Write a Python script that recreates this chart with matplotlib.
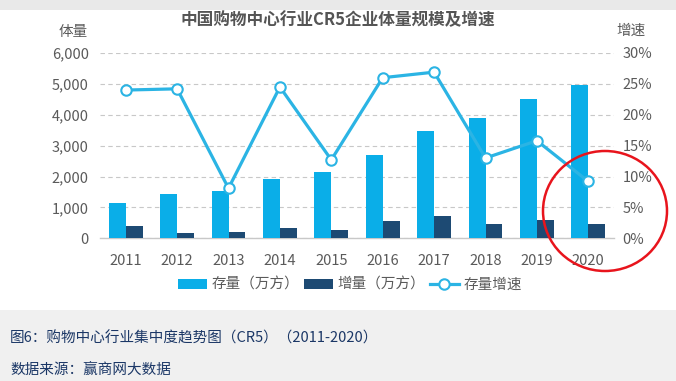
import numpy as np
import matplotlib
matplotlib.use("Agg")
import matplotlib.pyplot as plt
from matplotlib.patches import Ellipse, Rectangle, Patch
from matplotlib.lines import Line2D
from matplotlib.ticker import FuncFormatter

plt.rcParams['font.family'] = ['Noto Sans CJK SC', 'DejaVu Sans']

years = ['2011', '2012', '2013', '2014', '2015', '2016', '2017', '2018', '2019', '2020']
stock = [1150, 1430, 1540, 1920, 2160, 2710, 3480, 3900, 4510, 4950]
added = [390, 170, 195, 335, 260, 550, 715, 465, 605, 465]
growth = [24.0, 24.2, 8.1, 24.5, 12.7, 26.0, 26.9, 13.0, 15.8, 9.2]

c_stock = '#0aaee8'
c_added = '#1d4a73'
c_line = '#2bb4e4'
c_text = '#5a5a5a'

W, H = 676, 381
fig = plt.figure(figsize=(W / 100, H / 100), dpi=100)
fig.patch.set_facecolor('white')

# background strips
fig.patches.append(Rectangle((0, 1 - 10 / H), 1, 10 / H, transform=fig.transFigure,
                             facecolor='#e9e9e9', edgecolor='none', zorder=0))
fig.patches.append(Rectangle((0, 0), 1, (H - 310) / H, transform=fig.transFigure,
                             facecolor='#f0f0f0', edgecolor='none', zorder=0))

ax = fig.add_axes([100 / W, (H - 238.3) / H, 514 / W, 185.3 / H])
ax.set_facecolor('none')
x = np.arange(len(years))
bw = 0.33
ax.bar(x - bw / 2, stock, bw, color=c_stock, zorder=3)
ax.bar(x + bw / 2, added, bw, color=c_added, zorder=3)
ax.set_xlim(-0.5, len(years) - 0.5)
ax.set_ylim(0, 6000)
ax.set_yticks(range(0, 6001, 1000))
ax.yaxis.set_major_formatter(FuncFormatter(lambda v, p: f'{int(v):,}'))
ax.set_xticks(x)
ax.set_xticklabels(years)
ax.grid(axis='y', color='#c8c8c8', linestyle=(0, (4, 3)), linewidth=0.8, zorder=0)
for s in ['top', 'right', 'left']:
    ax.spines[s].set_visible(False)
ax.spines['bottom'].set_color('#c8c8c8')
ax.spines['bottom'].set_linewidth(1)
ax.tick_params(axis='both', length=0, labelsize=10.5, labelcolor=c_text)
ax.tick_params(axis='x', pad=11)
ax.tick_params(axis='y', pad=8)

ax2 = ax.twinx()
ax2.plot(x, growth, color=c_line, linewidth=2.3, marker='o', markersize=7.5,
         markerfacecolor='white', markeredgecolor=c_line, markeredgewidth=1.5,
         zorder=5, clip_on=False)
ax2.set_ylim(0, 30)
ax2.set_yticks(range(0, 31, 5))
ax2.yaxis.set_major_formatter(FuncFormatter(lambda v, p: f'{int(v)}%'))
for s in ax2.spines.values():
    s.set_visible(False)
ax2.tick_params(axis='y', length=0, labelsize=10.5, labelcolor=c_text, pad=6)

fig.text(338 / W, 1 - 20 / H, '中国购物中心行业CR5企业体量规模及增速', ha='center', va='center',
         fontsize=12, fontweight='bold', color='#555555')
fig.text(73 / W, 1 - 32 / H, '体量', ha='center', va='center', fontsize=10.5, color=c_text)
fig.text(631 / W, 1 - 31 / H, '增速', ha='center', va='center', fontsize=10.5, color=c_text)

handles = [Patch(facecolor=c_stock, edgecolor='none'),
           Patch(facecolor=c_added, edgecolor='none'),
           Line2D([0], [0], color=c_line, linewidth=2.3, marker='o', markersize=7.5,
                  markerfacecolor='white', markeredgecolor=c_line, markeredgewidth=1.5)]
labels = ['存量（万方）', '增量（万方）', '存量增速']
fig.legend(handles, labels, loc='center', bbox_to_anchor=(350 / W, 1 - 285 / H), ncol=3,
           frameon=False, fontsize=10.5, labelcolor=c_text, handlelength=2.0,
           handleheight=0.7, handletextpad=0.3, columnspacing=0.3)

fig.patches.append(Ellipse((605 / W, 1 - 211 / H), 124 / W, 120 / H, transform=fig.transFigure,
                           facecolor='none', edgecolor='#e8141c', linewidth=1.8, zorder=10))

fig.text(10 / W, 1 - 338 / H, '图6：购物中心行业集中度趋势图（CR5）（2011-2020）', ha='left', va='center',
         fontsize=10.5, color='#1b3766')
fig.text(10 / W, 1 - 371 / H, '数据来源：赢商网大数据', ha='left', va='center',
         fontsize=10.5, color='#1b3766')

fig.savefig('out.png', dpi=100)
